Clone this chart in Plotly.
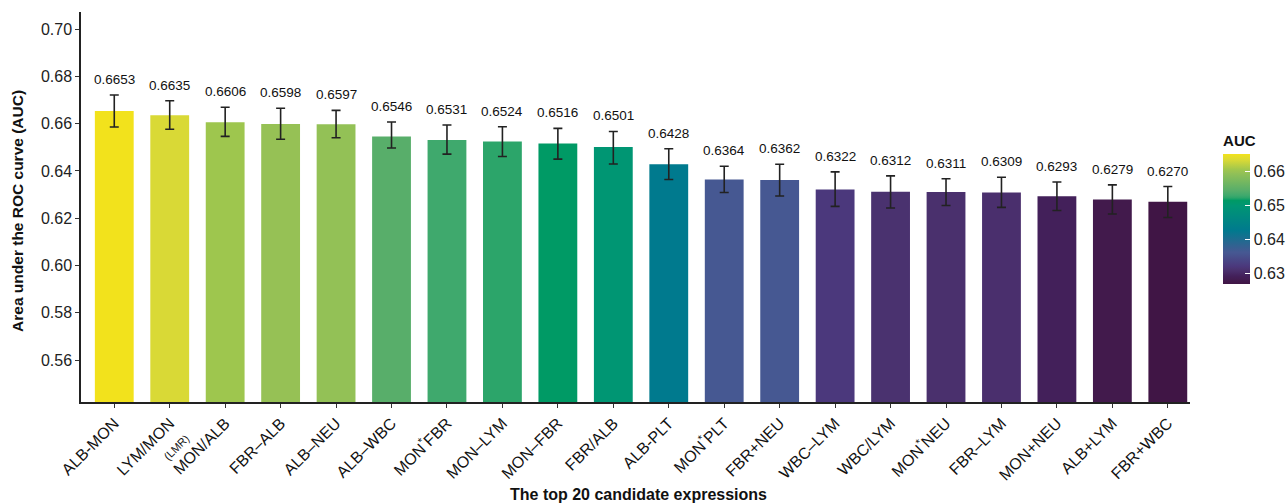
import plotly.graph_objects as go

categories = ["ALB-MON", "LYM/MON", "MON/ALB", "FBR–ALB", "ALB–NEU", "ALB–WBC", "MON*FBR",
              "MON–LYM", "MON–FBR", "FBR/ALB", "ALB-PLT", "MON*PLT", "FBR+NEU", "WBC–LYM",
              "WBC/LYM", "MON*NEU", "FBR–LYM", "MON+NEU", "ALB+LYM", "FBR+WBC"]
tick_labels = ["ALB-MON", "LYM/MON<br><span style='font-size:11px'>(LMR)</span>", "MON/ALB", "FBR–ALB", "ALB–NEU",
               "ALB–WBC", "MON<sup>*</sup>FBR", "MON–LYM", "MON–FBR", "FBR/ALB", "ALB-PLT",
               "MON<sup>*</sup>PLT", "FBR+NEU", "WBC–LYM", "WBC/LYM", "MON<sup>*</sup>NEU",
               "FBR–LYM", "MON+NEU", "ALB+LYM", "FBR+WBC"]
auc = [0.6653, 0.6635, 0.6606, 0.6598, 0.6597, 0.6546, 0.6531, 0.6524, 0.6516, 0.6501,
       0.6428, 0.6364, 0.6362, 0.6322, 0.6312, 0.6311, 0.6309, 0.6293, 0.6279, 0.6270]
err_plus = [0.0068, 0.0062, 0.0063, 0.0067, 0.0059, 0.0061, 0.0063, 0.0063, 0.0064, 0.0066,
            0.0066, 0.0056, 0.0066, 0.0074, 0.0067, 0.0056, 0.0064, 0.0060, 0.0062, 0.0064]
err_minus = [0.0067, 0.0059, 0.0060, 0.0064, 0.0057, 0.0049, 0.0060, 0.0063, 0.0066, 0.0072,
             0.0064, 0.0055, 0.0068, 0.0072, 0.0069, 0.0057, 0.0063, 0.0060, 0.0061, 0.0067]
bar_colors = ["#F2E21C", "#D9D936", "#9EC64E", "#96C155", "#93C156", "#58AE6A", "#3FA96D",
              "#2CA56A", "#009A65", "#009673", "#007A8E", "#465892", "#465892", "#4B387C",
              "#4A326F", "#4A306D", "#4A2F6D", "#43205A", "#421A4C", "#401545"]

cmin, cmax = min(auc), max(auc)
pairs = sorted(zip(auc, bar_colors))
colorscale = []
last = -1
for v, c in pairs:
    t = (v - cmin) / (cmax - cmin)
    if t <= last:
        continue
    colorscale.append([t, c])
    last = t
colorscale[0][0] = 0.0
colorscale[-1][0] = 1.0

font_family = "Liberation Sans, Arial, sans-serif"

fig = go.Figure()
fig.add_trace(go.Bar(
    x=categories, y=auc, width=0.7,
    marker=dict(color=auc, colorscale=colorscale, cmin=cmin, cmax=cmax, line=dict(width=0),
                colorbar=dict(
                    title=dict(text="<b>AUC</b>", side="top", font=dict(size=15, color="#111")),
                    x=1.0298, xanchor="left", xpad=0, ypad=0,
                    y=0.4987, yanchor="middle", lenmode="pixels", len=152,
                    thickness=27, outlinewidth=0,
                    tickvals=[0.63, 0.64, 0.65, 0.66], ticktext=["0.63", "0.64", "0.65", "0.66"],
                    ticks="inside", ticklen=5, tickcolor="white",
                    tickfont=dict(size=16, color="#222"))),
    error_y=dict(type="data", array=err_plus, arrayminus=err_minus, visible=True,
                 color="#222", thickness=1.6, width=4.5),
    showlegend=False, hoverinfo="x+y",
))

for c, v, e in zip(categories, auc, err_plus):
    fig.add_annotation(x=c, y=v + e, text=f"{v:.4f}", showarrow=False, yanchor="bottom",
                       yshift=6, font=dict(size=13.5, color="#111"))

fig.add_annotation(xref="paper", yref="paper", x=-0.0568, y=0.49, text="<b>Area under the ROC curve (AUC)</b>",
                   textangle=-90, showarrow=False, font=dict(size=15.5, color="#111"),
                   xanchor="center", yanchor="middle")
fig.add_annotation(xref="paper", yref="paper", x=0.503, y=-0.236, text="<b>The top 20 candidate expressions</b>",
                   showarrow=False, font=dict(size=16, color="#111"), xanchor="center", yanchor="middle")

fig.update_layout(
    width=1287, height=504,
    margin=dict(l=81, r=97, t=12, b=102, autoexpand=False),
    paper_bgcolor="white", plot_bgcolor="white",
    font=dict(family=font_family, color="#111"),
    bargap=0.3,
    xaxis=dict(range=[-0.6, 19.4], tickmode="array", tickvals=categories, ticktext=tick_labels,
               tickangle=-45, tickfont=dict(size=16, color="#111"), showline=True, linecolor="#222",
               linewidth=1.5, ticks="outside", ticklen=4, tickcolor="#333", showgrid=False, zeroline=False,
               automargin=False),
    yaxis=dict(range=[0.5423, 0.7072], tickvals=[0.56, 0.58, 0.60, 0.62, 0.64, 0.66, 0.68, 0.70],
               ticktext=["0.56", "0.58", "0.60", "0.62", "0.64", "0.66", "0.68", "0.70"],
               tickfont=dict(size=16, color="#222"), showline=True, linecolor="#222", linewidth=1.5,
               ticks="outside", ticklen=4, tickcolor="#333", showgrid=False, zeroline=False,
               automargin=False),
)

fig.write_html("out.html")
